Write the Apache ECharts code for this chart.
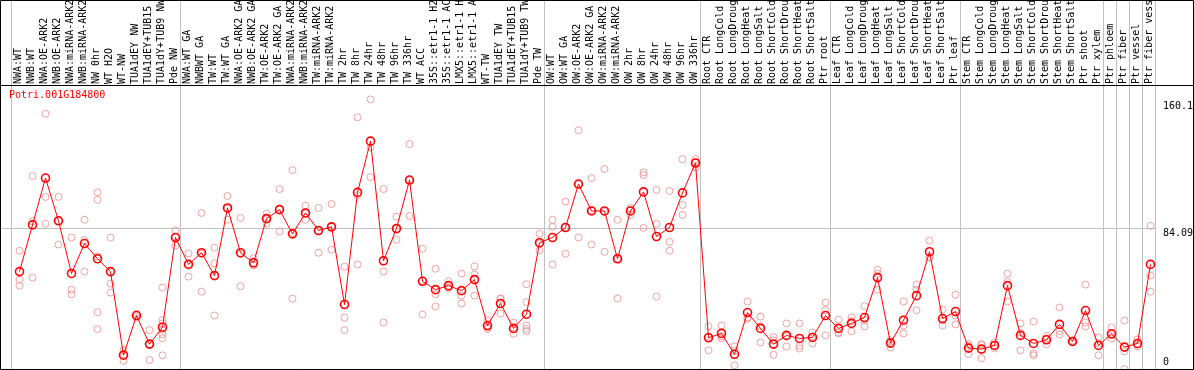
<!DOCTYPE html>
<html>
<head>
<meta charset="utf-8">
<script src="https://cdn.jsdelivr.net/npm/echarts@6/dist/echarts.min.js"></script>
<style>
html,body{margin:0;padding:0;background:#fff;}
#c{width:1194px;height:370px;}
</style>
</head>
<body>
<div id="c"></div>
<script>
const title = "Potri.001G184800";

const categories = [
"NWA:WT","NWB:WT","NWA:OE-ARK2","NWB:OE-ARK2","NWA:miRNA-ARK2","NWB:miRNA-ARK2","NW 0hr","WT H2O","WT-NW","TUA1dEY NW","TUA1dEY+TUB15 NW","TUA1dY+TUB9 NW","Pde NW",
"NWA:WT GA","NWBWT GA","TW:WT","TW:WT GA","NWA:OE-ARK2 GA","NWB:OE-ARK2 GA","TW:OE-ARK2","TW:OE-ARK2 GA","NWA:miRNA-ARK2","NWB:miRNA-ARK2","TW:miRNA-ARK2","TW:miRNA-ARK2","TW 2hr","TW 8hr","TW 24hr","TW 48hr","TW 96hr","TW 336hr","WT ACC","35S::etr1-1 H2O","35S::etr1-1 ACC","LMX5::etr1-1 H2O","LMX5::etr1-1 ACC","WT-TW","TUA1dEY TW","TUA1dEY+TUB15 TW","TUA1dY+TUB9 TW","Pde TW",
"OW:WT","OW:WT GA","OW:OE-ARK2","OW:OE-ARK2 GA","OW:miRNA-ARK2","OW:miRNA-ARK2","OW 2hr","OW 8hr","OW 24hr","OW 48hr","OW 96hr","OW 336hr",
"Root CTR","Root LongCold","Root LongDrought","Root LongHeat","Root LongSalt","Root ShortCold","Root ShortDrought","Root ShortHeat","Root ShortSalt","Ptr root",
"Leaf CTR","Leaf LongCold","Leaf LongDrought","Leaf LongHeat","Leaf LongSalt","Leaf ShortCold","Leaf ShortDrought","Leaf ShortHeat","Leaf ShortSalt","Ptr leaf",
"Stem CTR","Stem LongCold","Stem LongDrought","Stem LongHeat","Stem LongSalt","Stem ShortCold","Stem ShortDrought","Stem ShortHeat","Stem ShortSalt","Ptr shoot","Ptr xylem","Ptr phloem","Ptr fiber","Ptr vessel","Ptr fiber vessel"
];

const means = [
58.3,86.3,114.3,88.7,57.2,75.1,66.0,58.3,8.3,32.0,14.9,25.0,78.7,
62.6,69.6,55.9,96.4,69.6,63.6,90.0,95.4,80.9,93.4,82.9,85.1,38.6,105.7,136.4,64.8,84.1,113.1,52.5,47.5,49.9,46.9,53.5,26.0,39.2,24.3,32.8,75.6,
78.7,84.7,110.7,94.6,94.6,66.0,94.6,106.0,79.3,84.7,105.4,123.3,
18.7,21.3,8.8,33.8,24.3,14.9,20.1,18.3,18.9,32.0,
24.3,27.3,30.8,54.7,15.5,29.2,43.9,70.2,30.2,34.4,
12.5,11.9,14.1,49.9,20.1,15.3,17.5,26.7,16.5,35.0,14.1,21.1,13.1,15.3,62.6
];

const replicates = [
[70.8,53.5,49.9],[115.5,88.4,54.7],[152.8,103.0,86.9],[103.0,88.6,74.5],[78.7,47.5,44.7],[89.4,77.1,58.3],
[105.7,101.2,67.4,34.0,23.9],[78.7,51.1,45.7],[11.3,8.6,4.8],[33.0,31.0],[23.3,14.9,5.4],
[48.7,29.2,27.3,23.3,20.7,18.3,8.2],[82.9,79.0,73.9],
[69.2,62.8,55.3],[93.4,69.0,46.3],[72.7,63.2,32.0],[103.6,96.2,89.4],[90.5,68.8,49.5],[66.4,62.0,62.4],
[93.0,90.0,86.9],[107.7,95.9,82.3],[119.0,81.5,42.1],[97.8,93.1,89.3],[96.4,82.7,69.6],[98.8,85.1,71.4],
[61.2,30.8,23.3],[150.7,104.0,62.6],[161.4,132.6,114.9],[107.7,58.3,27.8],[91.2,84.0,77.3],[134.6,113.1,91.6],
[72.0,52.9,32.6],[60.0,44.7,37.4],[52.5,48.9,48.3],[57.1,43.9,39.2],[61.4,56.5,43.9],[29.2,24.8,24.0],
[42.2,42.0,33.2],[27.8,24.0,21.1],[50.7,40.0,26.0,24.0,22.7],[80.9,75.0,71.0],
[89.3,85.1,62.6],[100.2,84.9,69.0],[142.9,110.5,78.7],[114.3,95.0,74.5],[119.7,94.0,70.2],[89.3,66.5,42.2],
[96.4,95.2,92.2],[117.7,116.1,84.5],[107.2,86.9,43.4],[106.6,76.1,70.8],[125.6,98.2,92.2],[125.6,123.5,120.8],
[25.5,19.4,11.2],[26.0,19.6,18.3],[13.5,10.7,2.2],[40.4,30.8,30.2],[31.4,25.6,15.9],[19.1,17.1,8.5],
[27.3,19.5,13.5],[27.3,13.9,12.3],[21.9,19.5,15.3],[39.8,35.2,20.1],
[29.6,22.0,21.3],[30.8,28.6,22.5],[37.6,29.3,25.5],[59.5,57.1,47.5],[17.3,16.3,12.9],[40.4,26.0,21.3],
[50.5,47.5,35.2],[76.9,66.8,66.9],[35.6,29.0,26.0],[44.5,32.0,26.7],
[14.9,13.7,8.9],[14.5,14.8,6.4],[15.9,14.1,12.3],[57.1,52.2,40.4],[27.3,21.8,11.2],[28.4,9.3,8.2],
[19.7,18.1,14.7],[36.8,22.6,20.7],[17.0,16.5,16.0],[50.5,27.8,25.5],[18.9,15.2,8.2],[24.9,20.1,18.3],
[29.0,10.6,0.0],[17.7,14.7,13.5],[85.7,55.9,46.3]
];

// group separators: drawn after these category indices
const groupEnds = [-1,12,40,52,62,72,83,84,85,86,87];

// right-side tick labels
const tickValues = [160.1, 84.09, 0];
const tickLabels = ["160.1", "84.09", "0"];
const gridLineValues = [84.09];

// ---- layout ----
const W = 1194, H = 370;
const STEP = 13, FIRST = 19.5;          // pixel spacing and centre of first category
const PLOT_L = 1, PLOT_R = 1155, PLOT_T = 85, PLOT_B = 369;
const Y_MAX = 170;
const FONT = "'DejaVu Sans Mono', 'Liberation Mono', monospace";

const xMin = (PLOT_L - FIRST) / STEP;
const xMax = (PLOT_R - FIRST) / STEP;

const repData = [];
replicates.forEach((arr, i) => arr.forEach(v => repData.push([i, v])));
const meanData = means.map((v, i) => [i, v]);

const chart = echarts.init(document.getElementById('c'), null, {renderer: 'canvas', width: W, height: H});

const option = {
  animation: false,
  backgroundColor: '#ffffff',
  title: {
    text: title, left: 9, top: 90, padding: 0,
    textStyle: {color: '#ff0000', fontFamily: FONT, fontSize: 10, fontWeight: 'normal'}
  },
  grid: [
    {left: PLOT_L, top: PLOT_T, width: PLOT_R - PLOT_L, height: PLOT_B - PLOT_T, containLabel: false, outerBoundsMode: 'none'},
    {left: FIRST - STEP / 2 - 1.5, top: PLOT_T, width: STEP * categories.length, height: PLOT_B - PLOT_T, containLabel: false, outerBoundsMode: 'none'}
  ],
  xAxis: [
    {type: 'value', gridIndex: 0, min: xMin, max: xMax, show: false},
    {type: 'category', gridIndex: 1, position: 'top', data: categories, boundaryGap: true,
     axisLine: {show: false}, axisTick: {show: false}, splitLine: {show: false},
     axisLabel: {interval: 0, rotate: 90, margin: 1, color: '#000', fontFamily: FONT, fontSize: 10, hideOverlap: false}}
  ],
  yAxis: [
    {type: 'value', gridIndex: 0, min: 0, max: Y_MAX, show: false},
    {type: 'value', gridIndex: 1, min: 0, max: Y_MAX, show: false}
  ],
  series: [
    {type: 'scatter', xAxisIndex: 0, yAxisIndex: 0, data: repData, symbol: 'circle', symbolSize: 7,
     itemStyle: {color: 'rgba(255,255,255,0)', borderColor: '#ec8c8c', borderWidth: 1}, z: 2, silent: true},
    {type: 'line', xAxisIndex: 0, yAxisIndex: 0, data: meanData, showAllSymbol: true, symbol: 'circle', symbolSize: 8,
     lineStyle: {color: '#ff0000', width: 1},
     itemStyle: {color: 'rgba(255,255,255,0)', borderColor: '#ff0000', borderWidth: 1.6}, z: 3, silent: true}
  ]
};
chart.setOption(option);

const g = [];
groupEnds.forEach(e => {
  const px = Math.floor(chart.convertToPixel({xAxisIndex: 0}, e + 5 / STEP)) + 0.5;
  g.push({type: 'line', silent: true, z: 0, shape: {x1: px, y1: 0, x2: px, y2: PLOT_B}, style: {stroke: '#c0c0c0', lineWidth: 1}});
});
gridLineValues.forEach(v => {
  const py = Math.floor(chart.convertToPixel({yAxisIndex: 0}, v)) + 0.5;
  g.push({type: 'line', silent: true, z: 0, shape: {x1: 0, y1: py, x2: PLOT_R + 0.5, y2: py}, style: {stroke: '#c0c0c0', lineWidth: 1}});
});
tickValues.forEach((v, k) => {
  let py = chart.convertToPixel({yAxisIndex: 0}, v);
  const atBottom = py > PLOT_B - 10;
  g.push({type: 'text', silent: true, z: 50, x: 1163, y: atBottom ? PLOT_B - 2 : Math.floor(py) + 0.5,
    style: {text: tickLabels[k], fill: '#000', font: "10px " + FONT, textAlign: 'left', verticalAlign: atBottom ? 'bottom' : 'top'}});
});
g.push({type: 'rect', silent: true, z: 100, shape: {x: 0.5, y: 0.5, width: W - 1, height: PLOT_B}, style: {fill: null, stroke: '#000', lineWidth: 1}});
g.push({type: 'line', silent: true, z: 100, shape: {x1: 0, y1: PLOT_T + 0.5, x2: W, y2: PLOT_T + 0.5}, style: {stroke: '#000', lineWidth: 1}});
chart.setOption({graphic: g});
</script>
</body>
</html>
